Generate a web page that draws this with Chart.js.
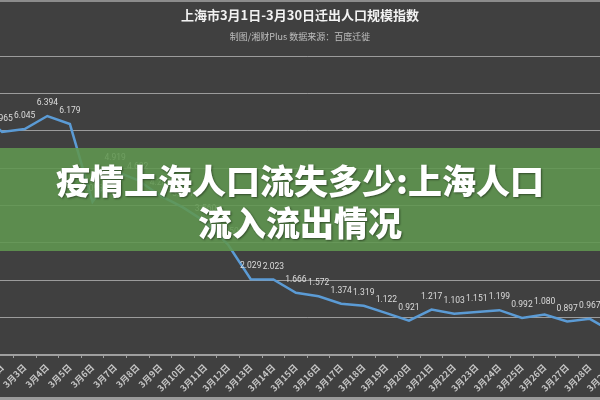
<!DOCTYPE html>
<html>
<head>
<meta charset="utf-8">
<script src="https://cdn.jsdelivr.net/npm/chart.js@4.4.1/dist/chart.umd.min.js"></script>
<style>
  html, body { margin: 0; padding: 0; background: #404040; }
  #wrap { position: relative; width: 600px; height: 400px; overflow: hidden; background: #404040; }
  #box { position: absolute; left: -60px; top: 0; width: 720px; height: 400px; }
  .ttl { position: absolute; left: 0; width: 600px; text-align: center; white-space: nowrap;
         font-family: "Noto Sans CJK SC", "Noto Sans", sans-serif; }
  #title { top: 5px; font-size: 13px; font-weight: bold; color: #f2f2f2; line-height: 20px; }
  #subtitle { top: 30px; font-size: 9px; color: #bfbfbf; line-height: 14px; }
  #topline { position: absolute; left: 0; top: 0; width: 600px; height: 2px; background: #8c8c8c; }
  #botline { position: absolute; left: 0; top: 397px; width: 600px; height: 3px; background: #9a9a9a; }
  #banner { position: absolute; left: 0; top: 148px; width: 600px; height: 103px;
            background: rgba(96, 150, 80, 0.88); box-sizing: border-box; padding-top: 11px;
            text-align: center; white-space: nowrap; color: #ffffff;
            font-family: "Noto Sans CJK SC", sans-serif; font-weight: 900; font-size: 34px; line-height: 42px;
            text-shadow: 1px 1px 2px rgba(0,0,0,0.45); }
</style>
</head>
<body>
<div id="wrap">
  <div id="box"><canvas id="c" width="720" height="400"></canvas></div>
  <div id="topline"></div>
  <div id="botline"></div>
  <div id="title" class="ttl">上海市3月1日-3月30日迁出人口规模指数</div>
  <div id="subtitle" class="ttl">制图/湘财Plus 数据来源：百度迁徙</div>
  <div id="banner">疫情上海人口流失多少:上海人口<br>流入流出情况</div>
</div>
<script>
const categories = [
  '3月1日','3月2日','3月3日','3月4日','3月5日','3月6日','3月7日','3月8日','3月9日','3月10日',
  '3月11日','3月12日','3月13日','3月14日','3月15日','3月16日','3月17日','3月18日','3月19日','3月20日',
  '3月21日','3月22日','3月23日','3月24日','3月25日','3月26日','3月27日','3月28日','3月29日','3月30日'
];
const outflowIndex = [
  6.5, 5.965, 6.045, 6.394, 6.179, 4.098, 4.919, 4.682, 4.262, 3.951,
  3.56, 2.95, 2.029, 2.023, 1.666, 1.572, 1.374, 1.319, 1.122, 0.921,
  1.217, 1.103, 1.151, 1.199, 0.992, 1.080, 0.897, 0.967, 0.62, 0.58
];
const yTicks = { min: 0, max: 8, step: 1 };

const valueLabels = {
  id: 'valueLabels',
  afterDatasetsDraw(chart) {
    const ctx = chart.ctx;
    const meta = chart.getDatasetMeta(0);
    ctx.save();
    ctx.font = '8.5px Roboto, "Noto Sans", sans-serif';
    ctx.fillStyle = '#dcdcdc';
    ctx.textAlign = 'center';
    ctx.textBaseline = 'middle';
    meta.data.forEach((pt, i) => {
      ctx.fillText(outflowIndex[i].toFixed(3), pt.x, pt.y - 13);
    });
    ctx.restore();
  }
};

new Chart(document.getElementById('c'), {
  type: 'line',
  data: {
    labels: categories,
    datasets: [{
      data: outflowIndex,
      borderColor: '#5b9bd5',
      borderWidth: 2.5,
      pointRadius: 0,
      tension: 0,
      fill: false
    }]
  },
  options: {
    responsive: false,
    animation: false,
    devicePixelRatio: 1,
    layout: { padding: { left: 28.2, right: 13.7, top: 56, bottom: 0 } },
    plugins: { legend: { display: false }, tooltip: { enabled: false }, title: { display: false } },
    scales: {
      x: {
        offset: true,
        grid: { offset: true, drawOnChartArea: false, drawTicks: true, tickLength: 3, color: '#a0a0a0', lineWidth: 1 },
        border: { color: '#a0a0a0', width: 1.5 },
        ticks: {
          autoSkip: false, minRotation: 45, maxRotation: 45, padding: 4,
          color: '#c4c4c4',
          font: { family: '"Noto Sans CJK SC", sans-serif', size: 9, weight: 'bold' }
        },
        afterFit(scale) { scale.height = 45; }
      },
      y: {
        min: yTicks.min, max: yTicks.max,
        ticks: { stepSize: yTicks.step, display: false },
        grid: { color: '#9c9c9c', lineWidth: 1, drawTicks: false },
        border: { display: false }
      }
    }
  },
  plugins: [valueLabels]
});
</script>
</body>
</html>
